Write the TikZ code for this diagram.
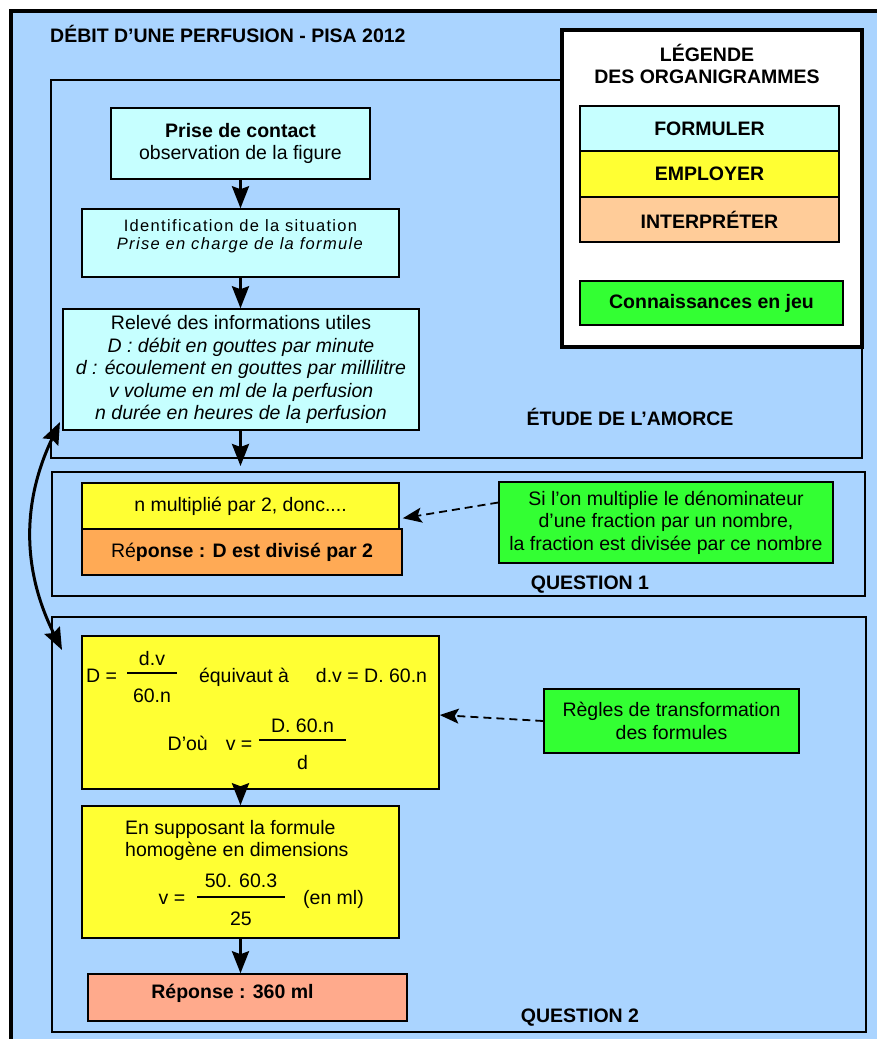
\documentclass[tikz,border=0pt]{standalone}
\usepackage{fontspec}
\setmainfont{Liberation Sans}
\newfontfamily\espace{Liberation Sans}[LetterSpace=8]
\usetikzlibrary{arrows.meta,positioning}

\newcommand{\corps}{\fontsize{19.5}{22.5}\selectfont}

\definecolor{bleufond}{RGB}{170,212,255}
\definecolor{cyanform}{RGB}{198,255,255}
\definecolor{jauneemp}{RGB}{255,255,51}
\definecolor{peachint}{RGB}{255,204,153}
\definecolor{orangerep}{RGB}{255,170,85}
\definecolor{saumonrep}{RGB}{255,170,140}
\definecolor{vertconn}{RGB}{51,255,51}

\tikzset{
  boite/.style={draw=black, line width=1.5pt, align=center, inner sep=3pt},
  formuler/.style={boite, fill=cyanform},
  employer/.style={boite, fill=jauneemp},
  interpreter/.style={boite, fill=peachint},
  connaissance/.style={boite, fill=vertconn},
  cadre/.style={draw=black, line width=1.5pt},
  texte/.style={inner sep=0pt, text height=14pt, text depth=0pt},
  titre/.style={texte, font=\corps\bfseries},
  fleche/.style={line width=3pt, -{Stealth[length=22pt,width=17pt,inset=3pt]}},
  pointille/.style={line width=1.8pt, dash pattern=on 8pt off 5pt,
    -{Stealth[length=19pt,width=15pt,inset=4pt]}},
  double fleche/.style={line width=3pt,
    {Stealth[length=22pt,width=17pt,inset=3pt]}-{Stealth[length=22pt,width=17pt,inset=3pt]}}
}

\begin{document}
\begin{tikzpicture}[x=1pt,y=-1pt,every node/.append style={font=\corps}]
\useasboundingbox (0,0) rectangle (877,1039);
\clip (0,0) rectangle (877,1039);
%% fond et titre
\draw[line width=4pt, fill=bleufond] (10.5,10.5) rectangle (900,1060);
\node[titre, anchor=west] (titre) at (50,35) {DÉBIT D’UNE PERFUSION - PISA 2012};

%% etude de l'amorce
\draw[cadre] (51,80) rectangle (862,458);
\node[formuler, minimum width=259pt, minimum height=71pt] (contact) at (240.5,143.5)
  {\textbf{Prise de contact}\\observation de la figure};
\node[formuler, minimum width=317pt, minimum height=68pt,
  label={[font=\espace\fontsize{16.5}{18.5}\selectfont, align=center, yshift=7pt]center:Identification de la situation\\\textit{Prise en charge de la formule}}]
  (identif) at (240.5,243) {};
\node[formuler, minimum width=356pt, minimum height=121pt] (releve) at (241,369.5)
  {Relevé des informations utiles\\
   \textit{D : débit en gouttes par minute}\\
   \textit{d : écoulement en gouttes par millilitre}\\
   \textit{v volume en ml de la perfusion}\\
   \textit{n durée en heures de la perfusion}};
\node[titre] (etude) at (630,418) {ÉTUDE DE L’AMORCE};
\coordinate (sortie) at (240.5,466);
\draw[fleche] (contact.south) -- (contact.south |- identif.north);
\draw[fleche] (identif.south) -- (identif.south |- releve.north);
\draw[fleche] (releve.south -| sortie) -- (sortie);

%% legende
\draw[line width=4pt, fill=white] (562,30) rectangle (862,347);
\node[align=center, font=\corps\bfseries] (legende) at (707,64) {LÉGENDE\\DES ORGANIGRAMMES};
\node[formuler, minimum width=259pt, minimum height=45pt, font=\corps\bfseries] (legform) at (709.5,128.5) {FORMULER};
\node[employer, minimum width=259pt, minimum height=45.5pt, font=\corps\bfseries] (legemp) at (709.5,174) {EMPLOYER};
\node[interpreter, minimum width=259pt, minimum height=45pt, font=\corps\bfseries] (legint) at (709.5,219.5) {INTERPRÉTER};
\node[connaissance, minimum width=263pt, minimum height=44pt, font=\corps\bfseries] (legconn) at (711.5,303) {Connaissances en jeu};

%% question 1
\draw[cadre] (52,472) rectangle (865,596);
\node[employer, minimum width=317pt, minimum height=46pt] (donc) at (240.5,506) {n multiplié par 2, donc....};
\node[boite, fill=orangerep, minimum width=320pt, minimum height=46pt] (rep1) at (242,552)
  {Ré\textbf{ponse : D est divisé par 2}};
\node[connaissance, minimum width=334pt, minimum height=81pt] (regle1) at (666,522.5)
  {Si l’on multiplie le dénominateur\\d’une fraction par un nombre,\\la fraction est divisée par ce nombre};
\node[titre] (q1) at (590,582) {QUESTION 1};
\draw[pointille] ([yshift=20pt]regle1.west) -- ([yshift=10pt]rep1.north east);

%% question 2
\draw[cadre] (52,617) rectangle (866,1032);
\node[employer, minimum width=357pt, minimum height=153pt] (equiv) at (260.5,712.5) {};
\node[texte, anchor=west] (deq) at (86,675) {D =};
\node[texte] (num1) at (152,658) {d.v};
\node[texte] (den1) at (152,695) {60.n};
\draw[line width=1.5pt] (127,673) -- (177,673);
\node[texte] (equivaut) at (244,675) {équivaut à};
\node[texte] (dveq) at (371.5,675) {d.v = D. 60.n};
\node[texte] (dou) at (210,743) {D’où\hspace{18pt}v =};
\node[texte] (num2) at (302.5,725) {D. 60.n};
\node[texte] (den2) at (302.5,762) {d};
\draw[line width=1.5pt] (259,740) -- (346,740);
\node[connaissance, minimum width=255pt, minimum height=64pt] (regle2) at (671.5,721)
  {Règles de transformation\\des formules};
\draw[pointille] (regle2.west) -- ([yshift=-2.5pt]equiv.east);

\node[employer, minimum width=317pt, minimum height=132pt] (suppos) at (240.5,872) {};
\node[inner sep=0pt, anchor=north west, align=left] (hypo) at (125,820)
  {En supposant la formule\\homogène en dimensions};
\node[texte] (veq) at (172,897) {v =};
\node[texte] (num3) at (241,880) {50. 60.3};
\node[texte] (den3) at (241,918) {25};
\draw[line width=1.5pt] (197,897) -- (285,897);
\node[texte] (enml) at (333.5,897) {(en ml)};
\node[boite, fill=saumonrep, minimum width=319pt, minimum height=47pt,
  label={[font=\corps\bfseries, xshift=-15pt, yshift=4pt]center:Réponse : 360 ml}] (rep2) at (247.5,997.5) {};
\node[titre] (q2) at (580,1015) {QUESTION 2};
\draw[fleche] (equiv.south -| suppos.north) -- (suppos.north);
\draw[fleche] (suppos.south) -- (suppos.south |- rep2.north);

%% lien entre l'amorce et la question 2
\coordinate (archaut) at (60,422);
\coordinate (arcbas) at (62,650);
\draw[double fleche] (archaut) to[bend right=26] (arcbas);
\end{tikzpicture}
\end{document}
